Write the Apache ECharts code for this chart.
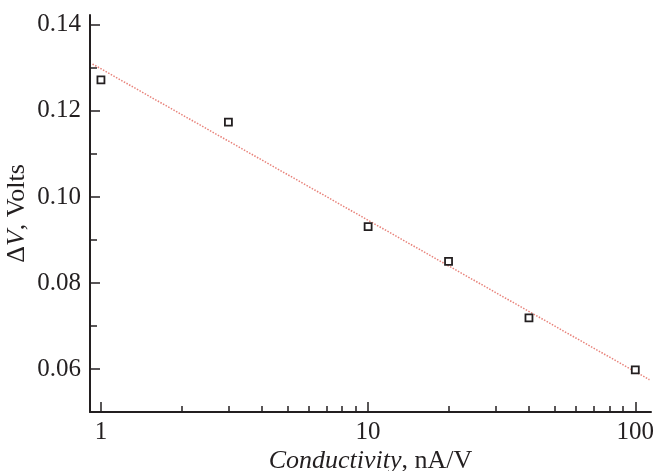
<!DOCTYPE html>
<html><head><meta charset="utf-8">
<script src="https://cdn.jsdelivr.net/npm/echarts@6/dist/echarts.min.js"></script>
<style>html,body{margin:0;padding:0;background:#fff}#c{width:655px;height:471px}</style>
</head><body><div id="c"></div>
<script>
const conductivity = [1, 3, 10, 20, 40, 100];
const deltaV = [0.1272, 0.1174, 0.0931, 0.0850, 0.0719, 0.0598];
const fitX = [0.93, 113];
const fitY = [0.1309, 0.0575];
const xMajorTicks = [1, 10, 100];
const xMinorTicks = [2, 3, 4, 5, 6, 7, 8, 9, 20, 30, 40, 50, 60, 70, 80, 90];
const yMajorTicks = [0.06, 0.08, 0.10, 0.12, 0.14];
const yMinorTicks = [0.07, 0.09, 0.11, 0.13];

const FONT = '"Liberation Serif", "Times New Roman", Times, serif';
const AX = '#231f20';
const chart = echarts.init(document.getElementById('c'));
const xCommon = { type: 'log', logBase: 10, min: 0.91, max: 114.5, gridIndex: 0, position: 'bottom', splitLine: { show: false } };
const yCommon = { type: 'value', min: 0.05, max: 0.1423, gridIndex: 0, position: 'left', splitLine: { show: false } };
chart.setOption({
  animation: false,
  backgroundColor: '#fff',
  grid: { left: 90, right: 4, top: 15, bottom: 59, containLabel: false, outerBoundsMode: 'none' },
  xAxis: [
    Object.assign({}, xCommon, {
      name: '{i|Conductivity}{n|, nA/V}',
      nameLocation: 'middle', nameGap: 36, nameMoveOverlap: false,
      nameTextStyle: { rich: { i: { fontFamily: FONT, fontSize: 26, fontStyle: 'italic', color: AX }, n: { fontFamily: FONT, fontSize: 26, color: AX } } },
      axisLine: { show: true, lineStyle: { color: AX, width: 2 } },
      axisTick: { show: true, inside: true, length: 10, lineStyle: { color: AX, width: 1.5 }, customValues: xMajorTicks },
      axisLabel: { show: true, margin: 8, fontFamily: FONT, fontSize: 25, color: AX, customValues: xMajorTicks, formatter: v => String(Math.round(v)) }
    }),
    Object.assign({}, xCommon, {
      axisLine: { show: false },
      axisTick: { show: true, inside: true, length: 6, lineStyle: { color: AX, width: 1.5 }, customValues: xMinorTicks },
      axisLabel: { show: false }
    })
  ],
  yAxis: [
    Object.assign({}, yCommon, {
      name: '{n|Δ}{i|V}{n|, Volts}',
      nameLocation: 'middle', nameGap: 60, nameRotate: 90, nameMoveOverlap: false,
      nameTextStyle: { rich: { i: { fontFamily: FONT, fontSize: 26, fontStyle: 'italic', color: AX }, n: { fontFamily: FONT, fontSize: 26, color: AX } } },
      axisLine: { show: true, lineStyle: { color: AX, width: 2 } },
      axisTick: { show: true, inside: true, length: 10, lineStyle: { color: AX, width: 1.5 }, customValues: yMajorTicks },
      axisLabel: { show: true, margin: 9, fontFamily: FONT, fontSize: 25, color: AX, customValues: yMajorTicks, formatter: v => v.toFixed(2) }
    }),
    Object.assign({}, yCommon, {
      axisLine: { show: false },
      axisTick: { show: true, inside: true, length: 7, lineStyle: { color: AX, width: 1.5 }, customValues: yMinorTicks },
      axisLabel: { show: false }
    })
  ],
  series: [
    { type: 'line', xAxisIndex: 0, yAxisIndex: 0, data: fitX.map((x, i) => [x, fitY[i]]), symbol: 'none', z: 1,
      lineStyle: { color: '#e8827a', width: 1.5, type: 'dotted' } },
    { type: 'scatter', xAxisIndex: 0, yAxisIndex: 0, data: conductivity.map((x, i) => [x, deltaV[i]]), symbol: 'rect', symbolSize: 7, z: 3,
      itemStyle: { color: '#fff', borderColor: AX, borderWidth: 1.8, opacity: 1 } }
  ]
});
</script></body></html>
